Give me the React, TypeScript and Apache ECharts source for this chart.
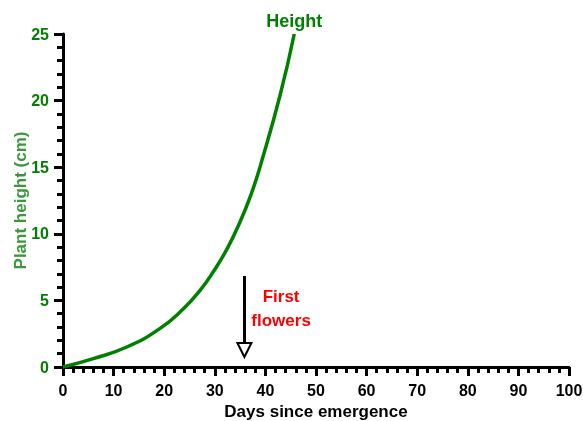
import React, { useEffect, useRef } from "react";
import * as echarts from "echarts";

const days = [0, 6, 12.6, 19.2, 23.8, 27.1, 29.7, 32.4, 35, 37.3, 39, 42.9, 45.7];
const heights = [0, 0.63, 1.5, 2.9, 4.38, 5.76, 7.15, 8.85, 10.9, 13.1, 15.1, 20.4, 25];
const arrowDay = 35.85;
const arrowFrom = 6.83;
const arrowTo = 1.28;
const flowerLabelPos = [43.1, 4.4];

export default function App() {
  const ref = useRef<HTMLDivElement>(null);
  useEffect(() => {
    const chart = echarts.init(ref.current!, null, { renderer: "svg" });
    const font = "'Liberation Sans', Arial, sans-serif";
    chart.setOption({
      animation: false,
      grid: { left: 63, right: 14, top: 34, bottom: 54, outerBoundsMode: "none", containLabel: false },
      xAxis: {
        type: "value",
        min: 0,
        max: 100,
        interval: 10,
        name: "Days since emergence",
        nameLocation: "middle",
        nameGap: 36,
        nameMoveOverlap: false,
        nameTextStyle: { fontFamily: font, fontWeight: "bold", fontSize: 17, color: "#000" },
        axisLine: { lineStyle: { color: "#000", width: 3 } },
        axisTick: { length: 9, lineStyle: { color: "#000", width: 3 } },
        minorTick: { show: true, splitNumber: 5, length: 6, lineStyle: { color: "#000", width: 3 } },
        axisLabel: { margin: 15, fontFamily: font, fontWeight: "bold", fontSize: 16, color: "#000" },
        splitLine: { show: false },
      },
      yAxis: {
        type: "value",
        min: 0,
        max: 25,
        interval: 5,
        name: "Plant height (cm)",
        nameLocation: "middle",
        nameGap: 34,
        nameMoveOverlap: false,
        nameTextStyle: { fontFamily: font, fontWeight: "bold", fontSize: 17, color: "#3a973a" },
        axisLine: { lineStyle: { color: "#000", width: 3 } },
        axisTick: { length: 9, lineStyle: { color: "#000", width: 3 } },
        minorTick: { show: true, splitNumber: 5, length: 6, lineStyle: { color: "#000", width: 3 } },
        axisLabel: { margin: 14, fontFamily: font, fontWeight: "bold", fontSize: 16, color: "#008000" },
        splitLine: { show: false },
      },
      series: [
        {
          type: "line",
          smooth: 0.5,
          showSymbol: false,
          data: days.map((d, i) => [d, heights[i]]),
          lineStyle: { color: "#008000", width: 3.5 },
          itemStyle: { color: "#008000" },
          markPoint: {
            symbol: "circle",
            symbolSize: 0,
            data: [
              {
                coord: [days[days.length - 1], heights[heights.length - 1]],
                label: {
                  show: true,
                  formatter: "Height",
                  position: "top",
                  distance: 4,
                  fontFamily: font,
                  fontWeight: "bold",
                  fontSize: 18,
                  color: "#008000",
                },
              },
              {
                coord: flowerLabelPos,
                label: {
                  show: true,
                  formatter: "First\nflowers",
                  position: "inside",
                  lineHeight: 24,
                  fontFamily: font,
                  fontWeight: "bold",
                  fontSize: 17,
                  color: "#ff0000",
                },
              },
            ],
          },
          markLine: {
            silent: true,
            symbol: ["none", "emptyTriangle"],
            symbolSize: 14,
            label: { show: false },
            lineStyle: { color: "#000", width: 3, type: "solid" },
            data: [[{ coord: [arrowDay, arrowFrom] }, { coord: [arrowDay, arrowTo] }]],
          },
        },
      ],
    });
    return () => chart.dispose();
  }, []);
  return <div ref={ref} style={{ position: "fixed", left: 0, top: 0, width: 583, height: 421 }} />;
}
